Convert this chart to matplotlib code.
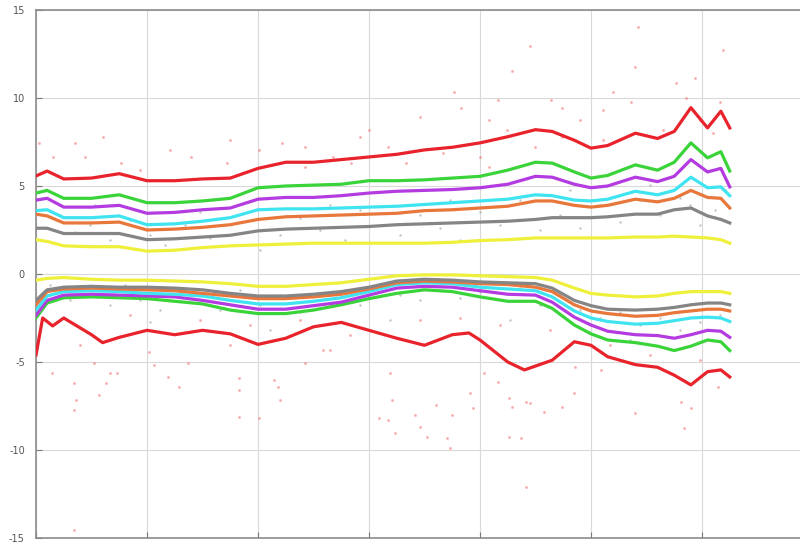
import matplotlib
matplotlib.use("Agg")
import matplotlib.pyplot as plt
import numpy as np

# sample positions (grid units) shared by the upper curves and most lower curves
x_pos = [0, 0.1, 0.25, 0.5, 0.75, 1.0, 1.25, 1.5, 1.75, 2.0, 2.25, 2.5, 2.75, 3.0,
         3.25, 3.5, 3.75, 4.0, 4.25, 4.5, 4.65, 4.85, 5.0, 5.15, 5.4, 5.6, 5.75,
         5.9, 6.05, 6.17, 6.25]

up_red = [5.57, 5.85, 5.4, 5.45, 5.7, 5.3, 5.3, 5.4, 5.45, 6.0, 6.35, 6.35, 6.5, 6.65,
          6.8, 7.05, 7.2, 7.45, 7.8, 8.2, 8.1, 7.6, 7.15, 7.3, 8.0, 7.7, 8.1,
          9.45, 8.3, 9.25, 8.3]
up_green = [4.6, 4.75, 4.3, 4.3, 4.5, 4.05, 4.05, 4.15, 4.3, 4.9, 5.0, 5.05, 5.1, 5.3,
            5.3, 5.35, 5.45, 5.55, 5.9, 6.35, 6.3, 5.8, 5.45, 5.6, 6.2, 5.9, 6.35,
            7.45, 6.6, 6.95, 5.85]
up_magenta = [4.2, 4.3, 3.8, 3.8, 3.9, 3.45, 3.5, 3.65, 3.75, 4.25, 4.35, 4.35, 4.45, 4.6,
              4.7, 4.75, 4.8, 4.9, 5.1, 5.55, 5.5, 5.1, 4.9, 5.0, 5.5, 5.25, 5.55,
              6.5, 5.8, 6.0, 4.95]
up_cyan = [3.6, 3.65, 3.2, 3.2, 3.3, 2.8, 2.85, 3.0, 3.2, 3.65, 3.7, 3.7, 3.75, 3.8,
           3.85, 3.95, 4.05, 4.15, 4.25, 4.5, 4.45, 4.2, 4.15, 4.25, 4.7, 4.5, 4.75,
           5.5, 4.9, 4.95, 4.45]
up_orange = [3.4, 3.3, 2.9, 2.9, 2.95, 2.5, 2.55, 2.65, 2.8, 3.1, 3.25, 3.3, 3.35, 3.4,
             3.45, 3.6, 3.65, 3.75, 3.85, 4.15, 4.15, 3.9, 3.8, 3.9, 4.25, 4.1, 4.3,
             4.75, 4.35, 4.3, 3.75]
up_gray = [2.6, 2.6, 2.3, 2.3, 2.3, 1.95, 2.0, 2.1, 2.2, 2.45, 2.55, 2.6, 2.65, 2.7,
           2.8, 2.85, 2.9, 2.95, 3.0, 3.1, 3.2, 3.2, 3.2, 3.25, 3.4, 3.4, 3.65,
           3.75, 3.3, 3.1, 2.9]
up_yellow = [1.95, 1.85, 1.6, 1.55, 1.55, 1.3, 1.35, 1.5, 1.6, 1.65, 1.7, 1.75, 1.75, 1.75,
             1.75, 1.75, 1.8, 1.9, 1.95, 2.05, 2.05, 2.05, 2.05, 2.05, 2.1, 2.1, 2.15,
             2.1, 2.05, 1.95, 1.75]

low_yellow = [-0.35, -0.25, -0.2, -0.3, -0.35, -0.35, -0.4, -0.45, -0.55, -0.7, -0.7, -0.6,
              -0.5, -0.3, -0.1, -0.05, -0.05, -0.1, -0.15, -0.2, -0.35, -0.8, -1.1, -1.2,
              -1.3, -1.25, -1.1, -1.0, -1.0, -1.0, -1.1]
low_gray = [-1.5, -0.9, -0.75, -0.7, -0.75, -0.75, -0.8, -0.9, -1.1, -1.25, -1.25, -1.15,
            -1.0, -0.75, -0.4, -0.3, -0.35, -0.45, -0.5, -0.55, -0.8, -1.5, -1.8, -2.0,
            -2.05, -2.0, -1.9, -1.75, -1.65, -1.65, -1.75]
low_orange = [-1.75, -1.0, -0.85, -0.8, -0.85, -0.9, -0.95, -1.1, -1.25, -1.4, -1.4, -1.3,
              -1.15, -0.85, -0.5, -0.4, -0.45, -0.55, -0.6, -0.75, -1.0, -1.75, -2.1, -2.25,
              -2.4, -2.35, -2.2, -2.1, -2.0, -2.0, -2.1]
low_cyan = [-2.05, -1.25, -1.0, -0.95, -1.0, -1.1, -1.15, -1.25, -1.5, -1.7, -1.7, -1.55,
            -1.35, -1.0, -0.6, -0.5, -0.55, -0.75, -0.85, -0.95, -1.3, -2.1, -2.5, -2.7,
            -2.85, -2.8, -2.65, -2.5, -2.45, -2.5, -2.7]
low_magenta = [-2.35, -1.5, -1.2, -1.15, -1.2, -1.25, -1.3, -1.5, -1.75, -2.0, -2.0, -1.8,
               -1.6, -1.2, -0.8, -0.7, -0.75, -0.95, -1.15, -1.2, -1.6, -2.45, -2.9, -3.25,
               -3.45, -3.5, -3.65, -3.45, -3.2, -3.25, -3.6]
low_green = [-2.5, -1.65, -1.35, -1.3, -1.35, -1.4, -1.55, -1.7, -2.05, -2.25, -2.25, -2.05,
             -1.75, -1.4, -1.1, -0.9, -1.0, -1.3, -1.55, -1.55, -1.95, -2.9, -3.4, -3.75,
             -3.9, -4.1, -4.35, -4.1, -3.75, -3.85, -4.35]

# the lower red curve has more wiggles, so it gets its own positions
x_red_low = [0, 0.06, 0.15, 0.25, 0.5, 0.6, 0.75, 1.0, 1.25, 1.5, 1.75, 2.0, 2.25, 2.5,
             2.75, 3.0, 3.25, 3.5, 3.75, 3.9, 4.0, 4.25, 4.4, 4.65, 4.85, 5.0, 5.15,
             5.4, 5.6, 5.75, 5.9, 6.05, 6.17, 6.25]
low_red = [-4.6, -2.5, -2.95, -2.5, -3.45, -3.9, -3.6, -3.2, -3.45, -3.2, -3.4, -4.0,
           -3.65, -3.0, -2.75, -3.2, -3.65, -4.05, -3.45, -3.35, -3.75, -5.0, -5.45, -4.9,
           -3.85, -4.05, -4.7, -5.15, -5.3, -5.75, -6.3, -5.55, -5.45, -5.85]

# scattered samples
red_dots_x = [5.42, 4.45, 4.29, 6.19, 5.40, 5.94, 5.77, 5.20, 3.77, 4.16, 4.64, 5.36, 5.86,
              6.16, 3.83, 4.74, 5.11, 3.46, 4.08, 4.90, 4.24, 3.0, 2.92, 2.22, 2.42, 0.60,
              0.03, 0.15, 0.44, 0.77, 1.40, 1.72, 2.01, 2.68, 3.17, 3.67, 4.0, 4.50, 5.11,
              5.65, 5.98, 6.10, 4.74, 2.84, 2.42, 3.33, 4.08, 0.35, 1.21, 1.75, 0.94,
              0.14, 0.34, 0.36, 0.34, 0.57, 0.63, 0.67, 0.73, 0.52, 1.02, 1.06, 1.19, 1.29,
              1.37, 1.83, 1.83, 1.83, 2.01, 2.14, 2.18, 2.20, 2.42, 2.59, 3.19, 3.21, 3.09,
              3.17, 3.23, 3.41, 3.46, 3.52, 3.60, 3.70, 3.73, 3.75, 3.91, 3.94, 4.04, 4.16,
              4.26, 4.29, 4.26, 4.37, 4.41, 4.45, 4.58, 4.74, 4.85, 4.86, 5.09, 5.40, 5.81,
              5.84, 5.90, 6.14, 4.41, 0.34, 0.40, 0.85, 1.48, 1.93, 2.38, 2.83, 3.46, 3.82,
              4.18, 4.63, 5.17, 5.53, 5.98, 1.75, 2.65]
red_dots_y = [14.03, 12.95, 11.53, 12.73, 11.76, 11.14, 10.85, 10.34, 10.34, 9.89, 9.89,
              9.77, 10.0, 9.77, 9.43, 9.43, 9.32, 8.92, 8.75, 8.75, 8.18, 8.18, 7.78, 7.44,
              7.22, 7.78, 7.44, 6.65, 6.65, 6.31, 6.65, 6.31, 7.05, 6.65, 7.22, 6.88, 6.65,
              7.22, 7.61, 8.18, 8.75, 8.01, 7.78, 6.31, 6.08, 6.31, 6.08, 7.44, 7.05, 7.61,
              5.91,
              -5.63, -6.19, -7.16, -7.73, -6.88, -6.19, -5.63, -5.63, -5.06, -4.43, -5.17,
              -5.85, -6.42, -5.06, -5.91, -6.59, -8.13, -8.18, -6.02, -6.42, -7.16, -5.06,
              -4.32, -5.63, -7.16, -8.18, -8.30, -9.03, -8.01, -8.69, -9.26, -7.44, -9.32,
              -9.89, -8.01, -6.76, -7.61, -5.63, -6.14, -7.05, -7.56, -9.26, -9.32, -7.27,
              -7.33, -7.84, -7.56, -6.76, -5.28, -5.45, -7.90, -7.27, -8.75, -7.61, -6.42,
              -12.10, -14.55, -4.03, -2.33, -2.61, -2.90, -2.61, -3.47, -2.61, -2.50, -2.90,
              -3.18, -4.03, -4.60, -4.89, -4.03, -4.32]

gray_dots_x = [0.22, 0.35, 0.49, 0.67, 0.85, 1.03, 1.16, 1.34, 1.57, 1.84, 2.02, 2.20, 2.38,
               2.56, 2.78, 2.92, 3.10, 3.28, 3.46, 3.64, 3.82, 4.0, 4.18, 4.36, 4.54, 4.72,
               4.90, 5.08, 5.26, 5.44, 5.62, 5.80, 5.98, 6.12, 6.21, 0.53, 1.48, 2.65, 3.73,
               4.81, 5.53, 5.89,
               0.13, 0.31, 0.49, 0.67, 0.80, 0.94, 1.12, 1.30, 1.48, 1.66, 1.84, 2.02, 2.20,
               2.38, 2.56, 2.78, 2.92, 3.10, 3.28, 3.46, 3.64, 3.82, 4.0, 4.18, 4.36, 4.54,
               4.72, 4.90, 5.08, 5.26, 5.44, 5.62, 5.80, 5.98, 6.16, 1.03, 2.11, 3.19, 4.27,
               5.35]
gray_dots_y = [3.35, 2.39, 2.78, 1.93, 3.07, 2.22, 1.65, 2.78, 2.05, 2.95, 1.36, 2.22, 3.18,
               2.50, 1.93, 3.64, 2.78, 2.22, 3.35, 2.61, 1.93, 3.52, 2.78, 4.20, 2.50, 3.35,
               2.61, 3.92, 2.95, 4.20, 3.35, 4.32, 2.78, 3.64, 4.77, 3.92, 3.52, 3.92, 4.20,
               4.77, 5.06, 3.92,
               -0.63, -1.48, -1.19, -1.76, -0.63, -1.48, -2.05, -1.02, -1.48, -2.05, -0.91,
               -1.76, -1.19, -2.16, -1.48, -0.91, -1.76, -0.63, -1.19, -1.48, -0.91, -1.36,
               -1.02, -1.48, -0.80, -1.76, -1.19, -2.05, -2.50, -2.16, -2.90, -2.50, -3.18,
               -2.73, -2.33, -2.73, -3.18, -2.61, -2.61, -3.75]

y_ticks = [-15, -10, -5, 0, 5, 10, 15]

c_red = "#e8232b"
c_green = "#3ad43a"
c_magenta = "#b43be0"
c_cyan = "#3fe4f0"
c_orange = "#e8773c"
c_gray = "#858585"
c_yellow = "#eef03a"

fig = plt.figure(figsize=(8, 5.44), dpi=100)
ax = fig.add_axes([36 / 800, 6 / 544, 777 / 800, 528 / 544])

ax.scatter(gray_dots_x, gray_dots_y, s=3, color="#8a8a8a", alpha=0.5, linewidths=0, zorder=2)
ax.scatter(red_dots_x, red_dots_y, s=4, color="#f06a6a", alpha=0.55, linewidths=0, zorder=2)

lw = 2.3
upper = [(up_yellow, c_yellow), (up_gray, c_gray), (up_orange, c_orange), (up_cyan, c_cyan),
         (up_magenta, c_magenta), (up_green, c_green), (up_red, c_red)]
for vals, col in upper:
    ax.plot(x_pos, vals, color=col, lw=lw, solid_joinstyle="round", zorder=3)

lower = [(low_green, c_green), (low_magenta, c_magenta), (low_cyan, c_cyan),
         (low_orange, c_orange), (low_gray, c_gray), (low_yellow, c_yellow)]
for vals, col in lower:
    ax.plot(x_pos, vals, color=col, lw=lw, solid_joinstyle="round", zorder=3)
ax.plot(x_red_low, low_red, color=c_red, lw=lw, solid_joinstyle="round", zorder=3)

ax.set_xlim(0, 7)
ax.set_ylim(-15, 15)
ax.set_xticks(range(8))
ax.set_xticklabels([])
ax.set_yticks(y_ticks)
ax.set_yticklabels([str(t) for t in y_ticks])
ax.tick_params(direction="in", length=4, color="#777777", labelsize=7,
               labelcolor="#555555", pad=8)
ax.grid(True, color="#d9d9d9", lw=0.8)
ax.set_axisbelow(True)
for side in ["left", "top", "bottom", "right"]:
    ax.spines[side].set_color("#8c8c8c")
    ax.spines[side].set_linewidth(1.2)

fig.savefig("out.png", dpi=100)
